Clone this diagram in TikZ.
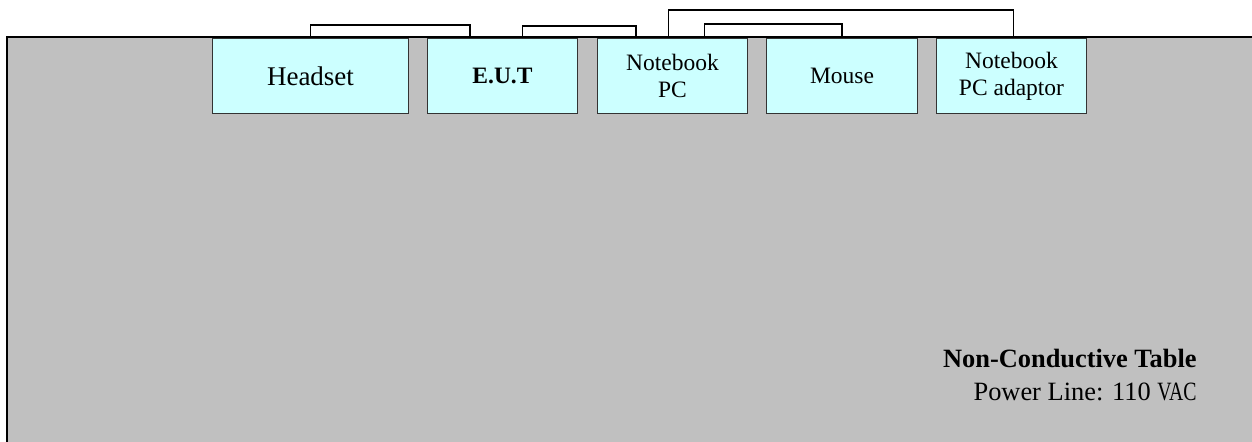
\documentclass[tikz,border=0pt]{standalone}
\usepackage{fontspec}
\usepackage{graphicx}
\setmainfont{Liberation Serif}
\usetikzlibrary{positioning}

\newlength{\du}
\setlength{\du}{0.5pt}

\definecolor{tablecolor}{rgb}{0.752941, 0.752941, 0.752941}
\definecolor{boxcolor}{rgb}{0.800000, 1.000000, 1.000000}
\definecolor{boxlinecolor}{rgb}{0.200000, 0.200000, 0.200000}

\tikzset{
  devbox/.style={draw=boxlinecolor, fill=boxcolor, line width=1.000000\du,
    minimum width=150\du, minimum height=75\du, inner sep=0pt, align=center,
    font=\fontsize{11.75}{13.5}\selectfont},
  cable/.style={draw=black, line width=1.300000\du},
  tablelabel/.style={inner sep=0pt, anchor=base east,
    font=\fontsize{13.2}{16}\selectfont}
}

\begin{document}
\begin{tikzpicture}
\pgftransformxscale{1.000000}
\pgftransformyscale{-1.000000}
\useasboundingbox (0\du,0\du) rectangle (1252\du,442\du);
\clip (0\du,0\du) rectangle (1252\du,442\du);
% table
\draw[fill=tablecolor, line width=2.300000\du] (7\du,37\du) rectangle (1270\du,460\du);
% devices
\node[devbox, anchor=north west, minimum width=196\du,
  font=\fontsize{13.5}{16}\selectfont] (headset) at (212\du,38\du) {Headset};
\node[devbox, right=18\du of headset] (eut) {\textbf{E.U.T}};
\node[devbox, right=19\du of eut] (nbpc) {Notebook\\PC};
\node[devbox, right=18\du of nbpc, minimum width=151\du] (mouse) {Mouse};
\node[devbox, right=18\du of mouse] (adaptor) {Notebook\\PC adaptor};
% cables
\draw[cable] (headset.north) -- ++(0,-13\du) -| ([xshift=43\du]eut.north west);
\draw[cable] ([xshift=20\du]eut.north) -- ++(0,-12\du) -| ([xshift=39\du]nbpc.north west);
\draw[cable] ([xshift=-4\du]nbpc.north) -- ++(0,-28\du) -| ([xshift=2\du]adaptor.north);
\draw[cable] ([xshift=32\du]nbpc.north) -- ++(0,-14\du) -| (mouse.north);
% setfont left to latex
\node[tablelabel] (tablename) at (1197\du,368\du) {\textbf{Non-Conductive Table}};
\node[tablelabel] (powerline) at (1197\du,401\du) {Power Line: 110 \scalebox{0.75}[1]{VAC}};
\end{tikzpicture}
\end{document}
